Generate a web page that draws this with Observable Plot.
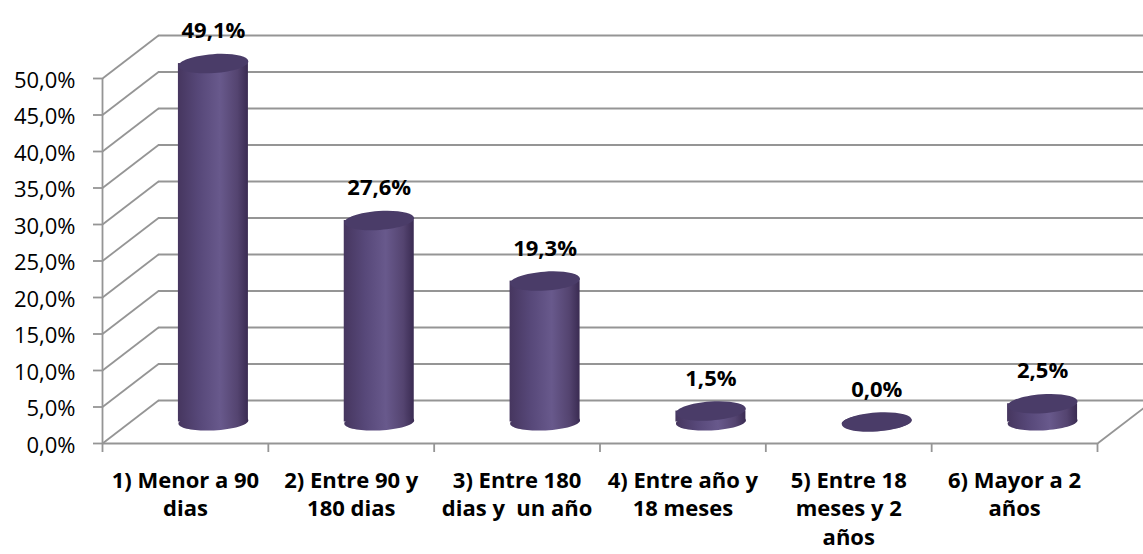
<!DOCTYPE html>
<html>
<head>
<meta charset="utf-8">
<script src="https://cdn.jsdelivr.net/npm/d3@7"></script>
<script src="https://cdn.jsdelivr.net/npm/@observablehq/plot@0.6"></script>
<style>
  html, body { margin: 0; padding: 0; background: #fff; }
  svg text { white-space: pre; }
</style>
</head>
<body>
<div id="chart"></div>
<script>
// ---- data ----
const categories = [
  "1) Menor a 90\ndias",
  "2) Entre 90 y\n180 dias",
  "3) Entre 180\ndias y  un año",
  "4) Entre año y\n18 meses",
  "5) Entre 18\nmeses y 2\naños",
  "6) Mayor a 2\naños"
];
const values = [49.1, 27.6, 19.3, 1.5, 0.0, 2.5];
const yTicks = [0, 5, 10, 15, 20, 25, 30, 35, 40, 45, 50];

// ---- layout helpers ----
const W = 1143, H = 554;
const mL = 102, mR = 46, mT = 78, mB = 111;
const PX = (W - mL - mR) / categories.length;   // px per category unit
const PY = (H - mT - mB) / 50;                   // px per percent
const depthPX = 56, depthPY = 43;                // 3D depth offset in px
const depthX = depthPX / PX, depthY = depthPY / PY;
const cylR = 35;                                  // cylinder radius px
const fmt = v => v.toFixed(1).replace(".", ",") + "%";

const data = categories.map((c, i) => ({cat: c, i, pos: i + 0.5, value: values[i]}));

function ellipseSymbol(ratio) {
  return {
    draw(ctx, size) {
      const rx = Math.sqrt(size / Math.PI), ry = rx * ratio, k = 0.5523;
      ctx.moveTo(rx, 0);
      ctx.bezierCurveTo(rx, ry * k, rx * k, ry, 0, ry);
      ctx.bezierCurveTo(-rx * k, ry, -rx, ry * k, -rx, 0);
      ctx.bezierCurveTo(-rx, -ry * k, -rx * k, -ry, 0, -ry);
      ctx.bezierCurveTo(rx * k, -ry, rx, -ry * k, rx, 0);
      ctx.closePath();
    }
  };
}
const ellipseTop = ellipseSymbol(0.27);
const ellipseBottom = ellipseSymbol(0.24);

const grid = "#959595";
const font = "'Open Sans', Lato, sans-serif";

const chart = Plot.plot({
  width: W, height: H,
  marginLeft: mL, marginRight: mR, marginTop: mT, marginBottom: mB,
  x: {type: "linear", domain: [0, categories.length], axis: null},
  y: {type: "linear", domain: [0, 50], axis: null},
  style: {background: "#fff", fontFamily: font},
  marks: [
    // back wall gridlines
    Plot.ruleY(yTicks, {y: d => d, x1: 0, x2: categories.length + 1, dx: depthPX, dy: -depthPY, stroke: grid, strokeWidth: 1.8}),
    // left wall diagonals
    Plot.link(yTicks, {x1: 0, y1: d => d, x2: depthX, y2: d => d + depthY, stroke: grid, strokeWidth: 1.8}),
    // floor right diagonal
    Plot.link([0], {x1: categories.length, y1: 0, x2: categories.length + depthX, y2: depthY, stroke: grid, strokeWidth: 1.8}),
    // front axis line and floor front edge
    Plot.ruleX([0], {x: 0, y1: 0, y2: 50, stroke: grid, strokeWidth: 1.8}),
    Plot.ruleY([0], {y: 0, x1: 0, x2: categories.length, stroke: grid, strokeWidth: 1.8}),
    // y tick marks
    Plot.ruleY(yTicks, {y: d => d, x1: -9 / PX, x2: 0, stroke: grid, strokeWidth: 1.8}),
    // category tick marks
    Plot.ruleX(d3.range(categories.length + 1), {x: d => d, y1: 0, y2: -9 / PY, stroke: grid, strokeWidth: 1.8}),
    // y tick labels
    Plot.text(yTicks, {x: 0, y: d => d, text: fmt, textAnchor: "end", dx: -27, dy: 2,
      fontSize: 22, fill: "#000", fontFamily: font}),
    // cylinder bodies
    Plot.rect(data, {x1: d => d.pos - cylR / PX, x2: d => d.pos + cylR / PX, y1: 0, y2: "value",
      dx: depthPX / 2, dy: -depthPY / 2, fill: "url(#cylGrad)"}),
    // cylinder bottoms
    Plot.dot(data, {x: "pos", y: 0, r: cylR, symbol: ellipseBottom, rotate: -3,
      dx: depthPX / 2, dy: -depthPY / 2, fill: "url(#cylGrad)", stroke: "none"}),
    // cylinder tops
    Plot.dot(data, {x: "pos", y: "value", r: cylR, symbol: ellipseTop, rotate: -4,
      dx: depthPX / 2, dy: -depthPY / 2, fill: "#4a3c68", stroke: "none"}),
    // value labels
    Plot.text(data, {x: "pos", y: "value", text: d => fmt(d.value), dx: depthPX / 2, dy: -54,
      fontSize: 22, fontWeight: "bold", fill: "#000", fontFamily: font}),
    // category labels
    Plot.text(data, {x: "pos", y: 0, text: "cat", lineAnchor: "top", lineHeight: 1.3, dy: 24,
      fontSize: 22, fontWeight: "bold", fill: "#000", fontFamily: font})
  ]
});

// gradient definition for the cylinder shading
const ns = "http://www.w3.org/2000/svg";
const defs = document.createElementNS(ns, "defs");
const grad = document.createElementNS(ns, "linearGradient");
grad.setAttribute("id", "cylGrad");
grad.setAttribute("x1", "0"); grad.setAttribute("x2", "1");
grad.setAttribute("y1", "0"); grad.setAttribute("y2", "0");
[["0", "#46365f"], ["0.3", "#574879"], ["0.6", "#68598c"], ["0.85", "#544470"], ["1", "#3a2b52"]].forEach(([o, c]) => {
  const s = document.createElementNS(ns, "stop");
  s.setAttribute("offset", o); s.setAttribute("stop-color", c);
  grad.appendChild(s);
});
defs.appendChild(grad);
chart.insertBefore(defs, chart.firstChild);

document.getElementById("chart").appendChild(chart);
</script>
</body>
</html>
